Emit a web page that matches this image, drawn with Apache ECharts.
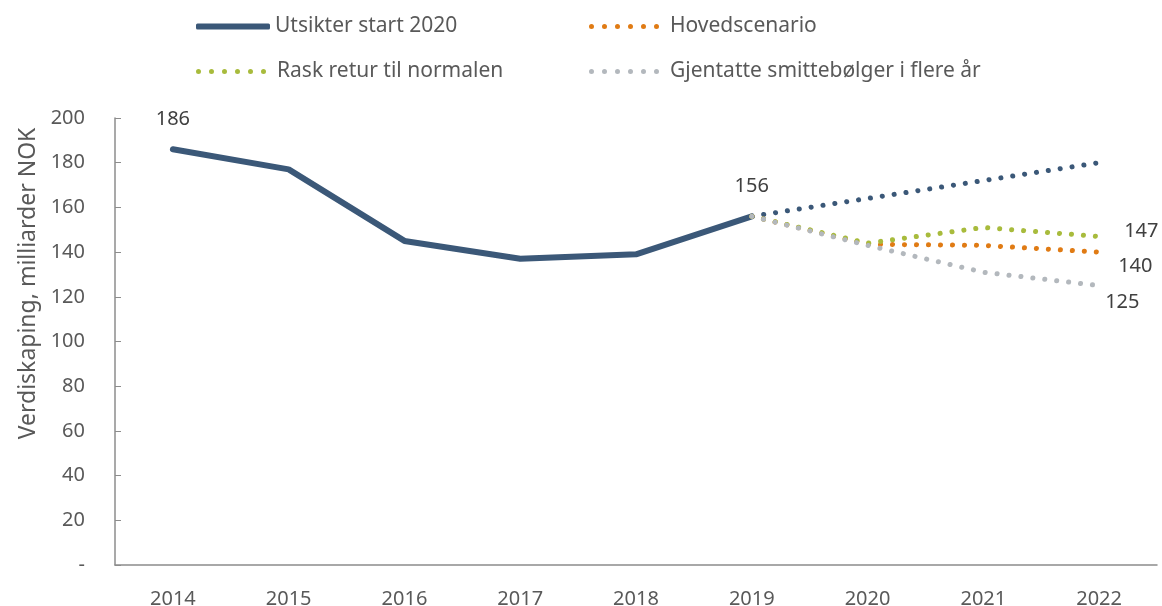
<!DOCTYPE html>
<html>
<head>
<meta charset="utf-8">
<script src="https://cdn.jsdelivr.net/npm/echarts@6/dist/echarts.min.js"></script>
<style>
  html, body { margin: 0; padding: 0; background: #fff; }
  #chart { width: 1162px; height: 606px; }
</style>
</head>
<body>
<div id="chart"></div>
<script>
const years = ['2014', '2015', '2016', '2017', '2018', '2019', '2020', '2021', '2022']
const yTicks = [0, 20, 40, 60, 80, 100, 120, 140, 160, 180, 200]

// verdiskaping, milliarder NOK
const utsikter = [186, 177, 145, 137, 139, 156, null, null, null]
const utsikterFrem = [null, null, null, null, null, 156, 164, 172, 180]
const hoved = [null, null, null, null, null, 156, 143.5, 143, 140]
const rask = [null, null, null, null, null, 156, 144, 151, 147]
const gjentatte = [null, null, null, null, null, 156, 143, 131, 125]

const txt = '#595959'
const font = 'Noto Sans'
const dots = [0.1, 11.9]
const cBlue = '#3b5878'
const cOrange = '#e07b14'
const cGreen = '#a8bb3c'
const cGrey = '#b3b8bd'

// six round dots for the dotted legend keys (+ a little blank space after)
let dotPath = 'path://'
for (let i = 0; i < 6; i++) {
  const x = i * 13
  dotPath += 'M' + x + ',2.5a2.5,2.5 0 1,0 5,0a2.5,2.5 0 1,0 -5,0'
}
dotPath += 'M76,2.5'

// labels only on selected points
function withLabels(values, labels) {
  return values.map((v, i) => labels[i] ? { value: v, label: Object.assign({ show: true }, labels[i]) } : v)
}

const chart = echarts.init(document.getElementById('chart'))

const legendBase = {
  textStyle: { color: txt, fontSize: 21, fontFamily: font },
  itemStyle: { borderWidth: 0 },
  selectedMode: false
}

chart.setOption({
  animation: false,
  textStyle: { fontFamily: font },
  legend: [
    Object.assign({}, legendBase, { left: 191, top: 11, itemWidth: 74, itemHeight: 6, data: [{ name: 'Utsikter start 2020', icon: 'roundRect' }] }),
    Object.assign({}, legendBase, { left: 584, top: 11, itemWidth: 76, itemHeight: 5, data: [{ name: 'Hovedscenario', icon: dotPath }] }),
    Object.assign({}, legendBase, { left: 191, top: 56, itemWidth: 76, itemHeight: 5, data: [{ name: 'Rask retur til normalen', icon: dotPath }] }),
    Object.assign({}, legendBase, { left: 584, top: 56, itemWidth: 76, itemHeight: 5, data: [{ name: 'Gjentatte smittebølger i flere år', icon: dotPath }] })
  ],
  grid: { left: 115, right: 5, top: 118, bottom: 41, outerBoundsMode: 'none' },
  xAxis: {
    type: 'category',
    data: years,
    boundaryGap: true,
    axisLine: { lineStyle: { color: '#8c8c8c', width: 1.5 } },
    axisTick: { inside: true, length: 7, lineStyle: { color: '#8c8c8c' } },
    axisLabel: { color: txt, fontSize: 20, margin: 24 }
  },
  yAxis: {
    type: 'value',
    min: 0,
    max: 200,
    interval: 20,
    name: 'Verdiskaping, milliarder NOK',
    nameLocation: 'middle',
    nameGap: 70,
    nameTextStyle: { color: txt, fontSize: 23, padding: [0, 0, 0, 116] },
    splitLine: { show: false },
    axisLine: { show: true, lineStyle: { color: '#8c8c8c', width: 1.5 } },
    axisTick: { show: true, inside: true, length: 6, lineStyle: { color: '#8c8c8c' } },
    axisLabel: {
      color: txt,
      fontSize: 20,
      margin: 30,
      formatter: v => (v === 0 ? '-' : yTicks.includes(v) ? String(v) : '')
    }
  },
  series: [
    {
      name: 'Utsikter start 2020',
      type: 'line',
      data: withLabels(utsikter, {
        0: { position: 'top', distance: 20 },
        5: { position: 'top', distance: 20 }
      }),
      symbol: 'circle',
      symbolSize: 0.1,
      showSymbol: true,
      lineStyle: { color: cBlue, width: 6, cap: 'round', join: 'round' },
      itemStyle: { color: cBlue },
      label: { color: '#404040', fontSize: 20 },
      z: 2
    },
    {
      name: 'Utsikter fremskrevet',
      type: 'line',
      data: utsikterFrem,
      symbol: 'none',
      lineStyle: { color: cBlue, width: 5, type: dots, cap: 'round' },
      itemStyle: { color: cBlue },
      z: 3
    },
    {
      name: 'Hovedscenario',
      type: 'line',
      data: withLabels(hoved, { 8: { position: 'right', distance: 19, offset: [0, 14] } }),
      symbol: 'circle',
      symbolSize: 0.1,
      showSymbol: true,
      lineStyle: { color: cOrange, width: 5, type: dots, cap: 'round' },
      itemStyle: { color: cOrange },
      label: { color: '#404040', fontSize: 20 },
      z: 4
    },
    {
      name: 'Rask retur til normalen',
      type: 'line',
      data: withLabels(rask, { 8: { position: 'right', distance: 25, offset: [0, -5] } }),
      symbol: 'circle',
      symbolSize: 0.1,
      showSymbol: true,
      lineStyle: { color: cGreen, width: 5, type: dots, cap: 'round' },
      itemStyle: { color: cGreen },
      label: { color: '#404040', fontSize: 20 },
      z: 5
    },
    {
      name: 'Gjentatte smittebølger i flere år',
      type: 'line',
      data: withLabels(gjentatte, { 8: { position: 'right', distance: 6, offset: [0, 17] } }),
      symbol: 'circle',
      symbolSize: 0.1,
      showSymbol: true,
      lineStyle: { color: cGrey, width: 5, type: dots, cap: 'round' },
      itemStyle: { color: cGrey },
      label: { color: '#404040', fontSize: 20 },
      z: 6
    }
  ]
})
</script>
</body>
</html>
